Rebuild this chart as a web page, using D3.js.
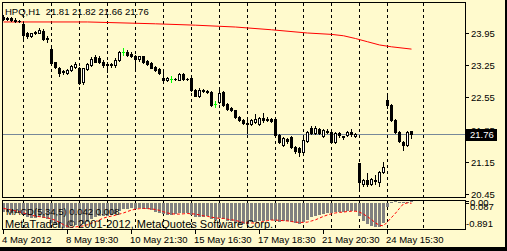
<!DOCTYPE html>
<html>
<head>
<meta charset="utf-8">
<script src="https://cdn.jsdelivr.net/npm/d3@7"></script>
<style>
  html, body { margin: 0; padding: 0; background: #000; }
  svg { display: block; }
  text { font-family: "Liberation Sans", Arial, sans-serif; fill: #000; }
</style>
</head>
<body>
<svg id="chart" width="507" height="251"></svg>
<script>
// ---- data ----
const symbol = 'HPQ,H1';
const lastQuote = [21.81, 21.82, 21.66, 21.76];   // O H L C of the last bar

const opens = [
  24.30, 24.28, 24.27, 24.24, 24.22, 24.14, 23.95, 23.89, 23.94, 23.96,
  24.00, 23.85, 23.60, 23.31, 23.20, 23.12, 23.07, 23.14, 23.22, 23.19,
  22.88, 23.17, 23.26, 23.43, 23.40, 23.33, 23.27, 23.27, 23.25, 23.36,
  23.54, 23.54, 23.50, 23.44, 23.38, 23.44, 23.34, 23.30, 23.22, 23.16,
  22.97, 22.93, 22.95, 22.96, 22.93, 23.06, 22.96, 22.97, 22.72, 22.58,
  22.68, 22.70, 22.66, 22.41, 22.45, 22.67, 22.40, 22.32, 22.27, 22.12,
  22.06, 22.00, 21.97, 22.02, 21.98, 22.10, 22.06, 22.09, 22.08, 21.73,
  21.52, 21.64, 21.69, 21.47, 21.44, 21.37, 21.60, 21.88, 21.78, 21.86,
  21.72, 21.82, 21.80, 21.58, 21.77, 21.71, 21.73, 21.80, 21.71, 21.12,
  20.66, 20.76, 20.67, 20.75, 20.71, 20.93, 22.49, 22.38, 22.06, 21.80,
  21.58, 21.52, 21.81
];
const highs = [
  24.34, 24.30, 24.30, 24.27, 24.24, 24.20, 23.97, 23.96, 23.99, 24.05,
  24.03, 23.88, 23.68, 23.33, 23.22, 23.14, 23.16, 23.26, 23.31, 23.22,
  23.20, 23.30, 23.42, 23.47, 23.44, 23.36, 23.32, 23.30, 23.40, 23.56,
  23.62, 23.57, 23.53, 23.48, 23.46, 23.46, 23.37, 23.32, 23.24, 23.18,
  23.12, 23.00, 23.01, 22.98, 23.07, 23.08, 22.98, 23.00, 22.74, 22.75,
  22.74, 22.72, 22.68, 22.47, 22.71, 22.69, 22.42, 22.34, 22.28, 22.14,
  22.08, 22.05, 22.08, 22.20, 22.13, 22.21, 22.12, 22.11, 22.10, 21.75,
  21.68, 21.67, 21.71, 21.49, 21.47, 21.66, 21.82, 21.93, 21.92, 21.88,
  21.86, 21.86, 21.82, 21.79, 21.79, 21.72, 21.82, 21.86, 21.78, 21.13,
  20.78, 20.90, 20.80, 20.86, 20.95, 21.14, 22.65, 22.40, 22.08, 21.82,
  21.60, 21.82, 21.82
];
const lows = [
  24.23, 24.23, 24.22, 24.19, 24.18, 23.85, 23.85, 23.87, 23.92, 23.94,
  23.80, 23.75, 23.28, 23.18, 23.02, 23.05, 23.05, 23.12, 23.18, 22.84,
  22.85, 23.15, 23.24, 23.31, 23.30, 23.22, 23.10, 23.22, 23.22, 23.34,
  23.48, 23.45, 23.42, 23.20, 23.35, 23.30, 23.26, 23.18, 23.12, 23.06,
  22.88, 22.91, 22.88, 22.92, 22.92, 22.93, 22.92, 22.69, 22.57, 22.55,
  22.66, 22.64, 22.36, 22.34, 22.43, 22.36, 22.28, 22.25, 22.10, 22.03,
  21.97, 21.77, 21.95, 22.00, 21.96, 22.02, 22.03, 22.02, 21.70, 21.55,
  21.50, 21.56, 21.44, 21.34, 21.28, 21.33, 21.57, 21.76, 21.76, 21.75,
  21.69, 21.77, 21.55, 21.55, 21.68, 21.64, 21.71, 21.72, 21.68, 20.55,
  20.63, 20.63, 20.65, 20.66, 20.62, 20.90, 22.33, 22.04, 21.78, 21.57,
  21.40, 21.50, 21.66
];
const closes = [
  24.25, 24.25, 24.23, 24.21, 24.21, 23.91, 23.88, 23.94, 23.97, 24.02,
  23.83, 23.82, 23.30, 23.21, 23.08, 23.10, 23.14, 23.24, 23.28, 22.86,
  23.18, 23.28, 23.38, 23.33, 23.32, 23.25, 23.25, 23.25, 23.37, 23.54,
  23.54, 23.47, 23.46, 23.38, 23.44, 23.32, 23.28, 23.20, 23.15, 23.08,
  22.92, 22.98, 22.95, 22.94, 23.06, 22.95, 22.94, 22.71, 22.59, 22.71,
  22.72, 22.66, 22.38, 22.41, 22.65, 22.38, 22.30, 22.27, 22.12, 22.05,
  22.00, 21.97, 22.06, 22.08, 22.10, 22.05, 22.08, 22.04, 21.73, 21.57,
  21.66, 21.60, 21.47, 21.38, 21.36, 21.62, 21.80, 21.78, 21.89, 21.78,
  21.84, 21.79, 21.58, 21.77, 21.73, 21.70, 21.80, 21.75, 21.76, 20.71,
  20.76, 20.66, 20.77, 20.73, 20.93, 21.04, 22.38, 22.06, 21.80, 21.60,
  21.52, 21.80, 21.76
];

// red moving average, read at a few bars
const maBars   = [0, 21, 38, 48, 58, 67, 76, 82, 85, 88, 91, 94, 97, 102];
const maValues = [24.19, 24.19, 24.15, 24.12, 24.08, 24.02, 23.95, 23.92, 23.89, 23.83, 23.76, 23.69, 23.65, 23.60];

// MACD(5,34,5) sub-window
const macdMain = [
  -0.30, -0.31, -0.32, -0.33, -0.34, -0.40, -0.46, -0.49, -0.50, -0.48,
  -0.52, -0.55, -0.67, -0.76, -0.85, -0.87, -0.86, -0.80, -0.74, -0.80,
  -0.72, -0.64, -0.55, -0.48, -0.45, -0.44, -0.42, -0.40, -0.35, -0.26,
  -0.20, -0.18, -0.17, -0.18, -0.16, -0.18, -0.20, -0.24, -0.28, -0.33,
  -0.38, -0.39, -0.39, -0.38, -0.33, -0.33, -0.32, -0.40, -0.48, -0.48,
  -0.46, -0.45, -0.54, -0.57, -0.50, -0.55, -0.60, -0.62, -0.67, -0.70,
  -0.72, -0.70, -0.66, -0.64, -0.62, -0.60, -0.58, -0.56, -0.60, -0.64,
  -0.62, -0.62, -0.66, -0.68, -0.70, -0.66, -0.56, -0.48, -0.44, -0.40,
  -0.36, -0.32, -0.32, -0.30, -0.29, -0.28, -0.27, -0.26, -0.26, -0.42,
  -0.60, -0.72, -0.80, -0.83, -0.82, -0.68, -0.12, 0.00, 0.04, 0.02,
  0.00, 0.03, 0.042
];
const macdSignal = [
  -0.17, -0.20, -0.23, -0.26, -0.29, -0.33, -0.37, -0.41, -0.44, -0.46,
  -0.48, -0.50, -0.54, -0.59, -0.66, -0.74, -0.80, -0.83, -0.82, -0.80,
  -0.78, -0.74, -0.69, -0.63, -0.57, -0.51, -0.47, -0.44, -0.41, -0.37,
  -0.33, -0.28, -0.23, -0.20, -0.18, -0.17, -0.18, -0.19, -0.21, -0.24,
  -0.29, -0.33, -0.36, -0.37, -0.37, -0.36, -0.35, -0.36, -0.37, -0.40,
  -0.43, -0.45, -0.48, -0.50, -0.52, -0.52, -0.55, -0.57, -0.59, -0.63,
  -0.66, -0.68, -0.68, -0.68, -0.66, -0.63, -0.60, -0.58, -0.58, -0.59,
  -0.60, -0.61, -0.63, -0.65, -0.66, -0.66, -0.65, -0.61, -0.57, -0.51,
  -0.45, -0.40, -0.36, -0.33, -0.31, -0.30, -0.28, -0.27, -0.27, -0.30,
  -0.37, -0.46, -0.56, -0.68, -0.76, -0.78, -0.64, -0.49, -0.34, -0.17,
  -0.01, 0.02, 0.008
];
const macdLabel = 'MACD(5,34,5) 0.042 0.008';

const priceTicks = [23.95, 23.25, 22.55, 21.85, 21.15, 20.45];
const macdTicks = ['0.087', '0.00', '-0.891'];
const dayStartBars = [5, 12, 19, 26, 33, 40, 47, 54, 61, 68, 75, 82, 89, 96, 105];
const timeLabelBars = [0, 16, 32, 48, 64, 80, 96];
const timeLabels = ['4 May 2012', '8 May 19:30', '10 May 21:30', '15 May 16:30',
                    '17 May 18:30', '21 May 20:30', '24 May 15:30'];
const copyright = 'MetaTrader, \u00a9 2001-2012, MetaQuotes Software Corp.';

// ---- drawing ----
const BG = '#FFFACD';
const svg = d3.select('#chart').attr('shape-rendering', 'crispEdges');

const L = 2.5, R = 465.5, T = 2.5, B = 197.5;      // main window
const ST = 200.5, SB = 229.5;                       // MACD window

const x = d3.scaleLinear().domain([0, 102]).range([3.5, 411.5]);
const y = d3.scaleLinear().domain([20.45, 23.95]).range([194, 33]);
const ym = d3.scaleLinear().domain([-0.891, 0.087]).range([229, 201]);

svg.append('rect').attr('width', 507).attr('height', 251).attr('fill', BG);

const clipMain = svg.append('clipPath').attr('id', 'clipMain');
clipMain.append('rect').attr('x', L).attr('y', T).attr('width', R - L).attr('height', B - T);
const clipSub = svg.append('clipPath').attr('id', 'clipSub');
clipSub.append('rect').attr('x', L).attr('y', ST).attr('width', R - L).attr('height', SB - ST);

// vertical grid, both windows
const grid = svg.append('g').attr('stroke', '#000').attr('stroke-dasharray', '3,3');
dayStartBars.forEach(b => {
  grid.append('line').attr('x1', x(b)).attr('x2', x(b)).attr('y1', T).attr('y2', B);
  grid.append('line').attr('x1', x(b)).attr('x2', x(b)).attr('y1', ST).attr('y2', SB);
});

const main = svg.append('g').attr('clip-path', 'url(#clipMain)');

// bid line
const yBid = Math.round(y(lastQuote[3])) + 0.5;
main.append('line').attr('x1', L).attr('x2', R).attr('y1', yBid).attr('y2', yBid)
  .attr('stroke', '#778899');

// moving average
main.append('path')
  .datum(maBars.map((b, i) => [b, maValues[i]]))
  .attr('fill', 'none').attr('stroke', '#ff0000').attr('stroke-width', 1)
  .attr('shape-rendering', 'auto')
  .attr('d', d3.line().x(d => x(d[0])).y(d => y(d[1])));

// candles
const candles = main.append('g');
opens.forEach((o, i) => {
  const c = closes[i], h = highs[i], l = lows[i];
  const cx = x(i);
  const doji = Math.abs(o - c) < 1e-9;
  const col = doji ? '#00ff00' : '#000';
  const top = Math.round(y(Math.max(o, c)));
  const bot = Math.round(y(Math.min(o, c)));
  candles.append('line').attr('x1', cx).attr('x2', cx)
    .attr('y1', Math.round(y(h))).attr('y2', Math.round(y(l)) + 1).attr('stroke', col);
  if (doji) {
    candles.append('line').attr('x1', cx - 1.5).attr('x2', cx + 1.5)
      .attr('y1', top + 0.5).attr('y2', top + 0.5).attr('stroke', col);
  } else if (c > o) {
    candles.append('rect').attr('x', cx - 1).attr('y', top + 0.5)
      .attr('width', 2).attr('height', Math.max(1, bot - top))
      .attr('fill', '#fff').attr('stroke', '#000');
  } else {
    candles.append('rect').attr('x', cx - 1.5).attr('y', top)
      .attr('width', 3).attr('height', Math.max(1, bot - top + 1))
      .attr('fill', '#000');
  }
});

// MACD histogram + signal
const sub = svg.append('g').attr('clip-path', 'url(#clipSub)');
const y0 = Math.round(ym(0));
sub.append('g').selectAll('rect').data(macdMain).join('rect')
  .attr('x', (d, i) => x(i) - 1.5)
  .attr('width', 3)
  .attr('y', d => d >= 0 ? Math.round(ym(d)) - 1 : y0)
  .attr('height', d => Math.max(1, Math.abs(Math.round(ym(d)) - y0)))
  .attr('fill', '#808080');
sub.append('path').datum(macdSignal)
  .attr('fill', 'none').attr('stroke', '#ff0000').attr('stroke-dasharray', '3,2')
  .attr('shape-rendering', 'auto')
  .attr('d', d3.line().x((d, i) => x(i)).y(d => ym(d)));

// window frames
const frames = svg.append('g').attr('fill', 'none').attr('stroke', '#000');
frames.append('rect').attr('x', L).attr('y', T).attr('width', R - L).attr('height', B - T);
frames.append('rect').attr('x', L).attr('y', ST).attr('width', R - L).attr('height', SB - ST);

// price axis
const axis = svg.append('g').attr('font-size', '9.5px');
priceTicks.forEach(v => {
  const yy = Math.round(y(v)) + 0.5;
  axis.append('line').attr('x1', R).attr('x2', R + 3).attr('y1', yy).attr('y2', yy).attr('stroke', '#000');
  axis.append('text').attr('x', 471).attr('y', yy).attr('dy', '0.35em').text(v.toFixed(2));
});
// last price box
axis.append('rect').attr('x', 466).attr('y', yBid - 6).attr('width', 31).attr('height', 12).attr('fill', '#000');
axis.append('text').attr('x', 470).attr('y', yBid).attr('dy', '0.35em')
  .style('fill', '#fff').text(lastQuote[3].toFixed(2));

// MACD axis labels
const mAxis = svg.append('g').attr('font-size', '9.5px');
[[0.087, 207], [0, 203]].forEach(([v, ty], k) => {
  const yy = Math.round(ym(v)) + 0.5;
  mAxis.append('line').attr('x1', R).attr('x2', R + 3).attr('y1', yy).attr('y2', yy).attr('stroke', '#000');
  mAxis.append('text').attr('x', 470).attr('y', ty).attr('dy', '0.35em').text(macdTicks[k]);
});
mAxis.append('text').attr('x', 466).attr('y', 223.5).attr('dy', '0.35em').text(macdTicks[2]);

// time axis
const tAxis = svg.append('g').attr('font-size', '9.5px');
timeLabelBars.forEach((b, i) => {
  tAxis.append('line').attr('x1', x(b)).attr('x2', x(b)).attr('y1', SB).attr('y2', SB + 4).attr('stroke', '#000');
  tAxis.append('text').attr('x', x(b) - 1.5).attr('y', 239.5).attr('dy', '0.35em').text(timeLabels[i]);
});

// captions
svg.append('text').attr('x', 5).attr('y', 15).attr('font-size', '9.5px')
  .attr('xml:space', 'preserve')
  .text(symbol + '  ' + lastQuote.map(v => v.toFixed(2)).join(' '));
svg.append('text').attr('x', 6).attr('y', 211.5).attr('dy', '0.35em').attr('font-size', '9.5px').text(macdLabel);
svg.append('text').attr('x', 5).attr('y', 228).attr('font-size', '11px').text(copyright);

// outer frame
svg.append('rect').attr('x', 505).attr('y', 0).attr('width', 2).attr('height', 251).attr('fill', '#000');
svg.append('rect').attr('x', 0).attr('y', 247).attr('width', 507).attr('height', 4).attr('fill', '#000');
</script>
</body>
</html>
